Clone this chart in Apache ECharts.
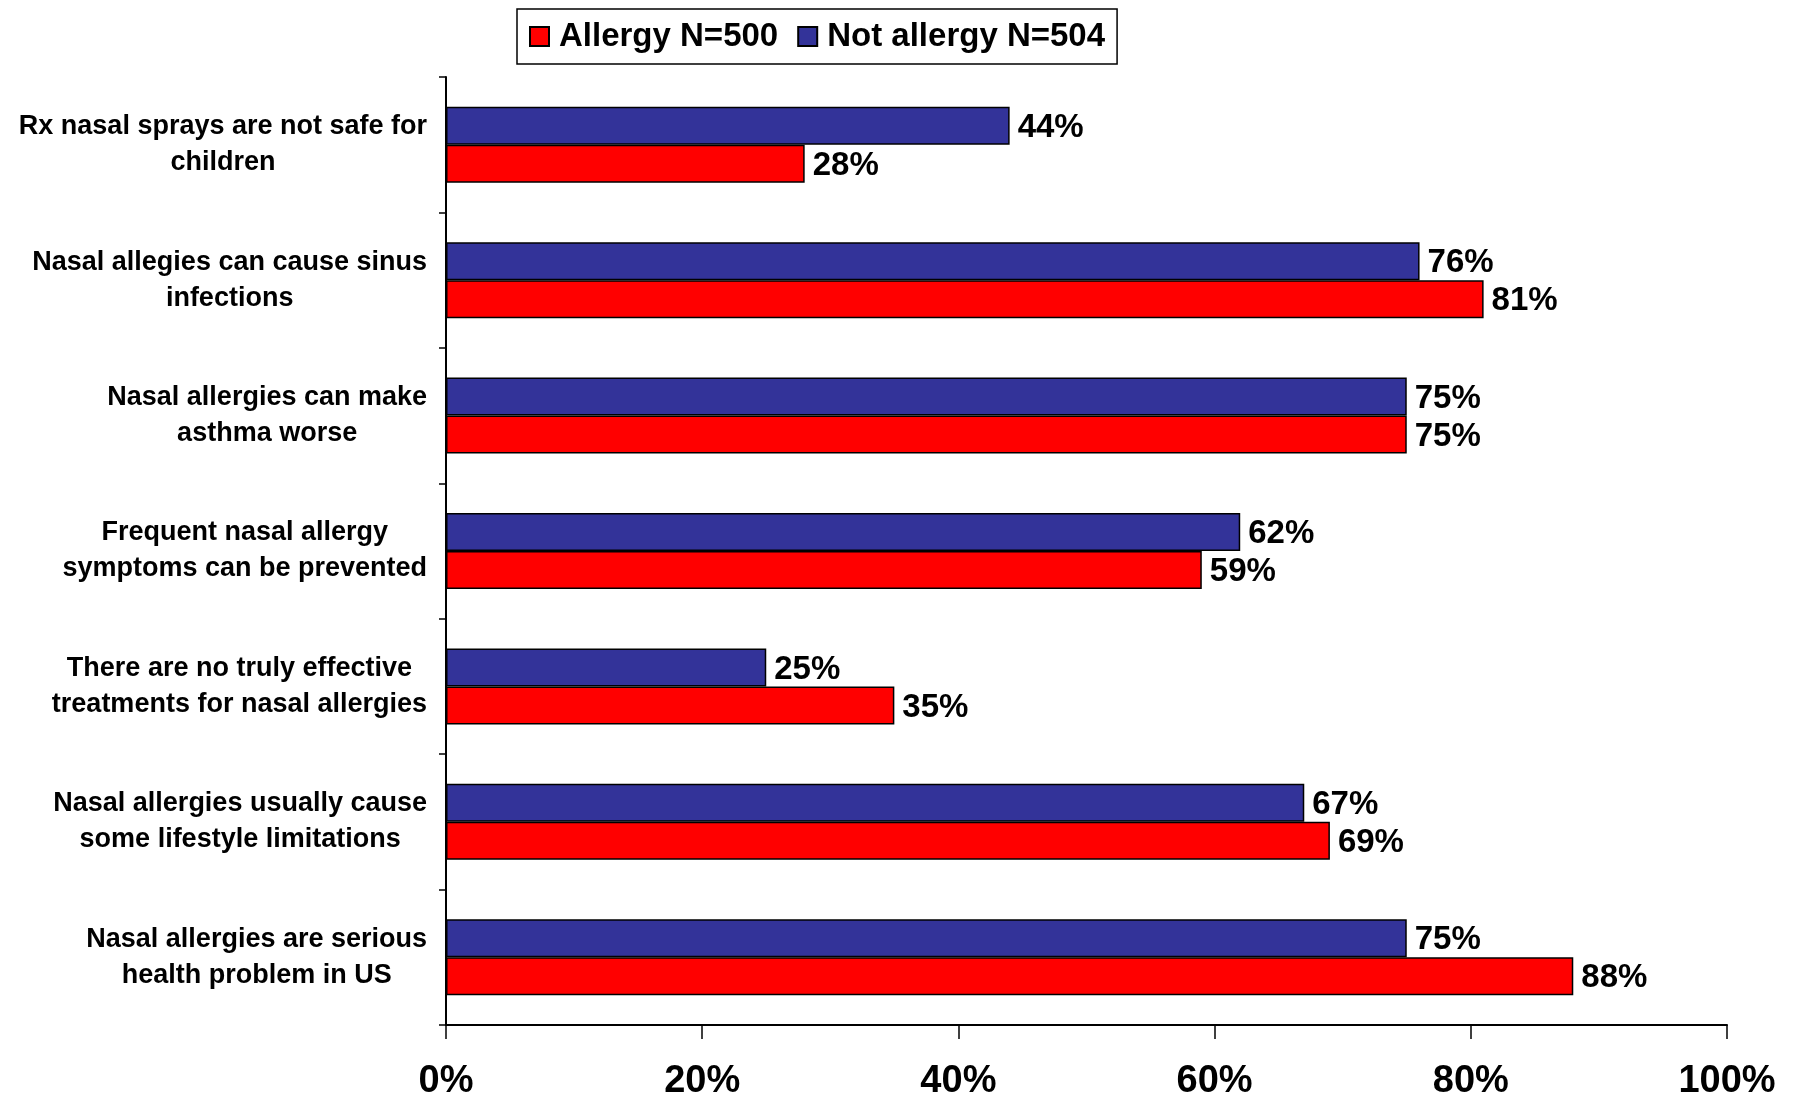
<!DOCTYPE html>
<html>
<head>
<meta charset="utf-8">
<script src="https://cdn.jsdelivr.net/npm/echarts@6/dist/echarts.min.js"></script>
<style>
  html, body { margin: 0; padding: 0; background: #fff; }
  #container { width: 1793px; height: 1101px; }
</style>
</head>
<body>
<div id="container"></div>
<script>
// categories, top to bottom
var categories = [
  'Rx nasal sprays are not safe for\nchildren',
  'Nasal allegies can cause sinus\ninfections',
  'Nasal allergies can make\nasthma worse',
  'Frequent nasal allergy\nsymptoms can be prevented',
  'There are no truly effective\ntreatments for nasal allergies',
  'Nasal allergies usually cause\nsome lifestyle limitations',
  'Nasal allergies are serious\nhealth problem in US'
];
var allergy = [28, 81, 75, 59, 35, 69, 88];
var notAllergy = [44, 76, 75, 62, 25, 67, 75];
var xTicks = [0, 20, 40, 60, 80, 100];

var FONT = 'Arial, "Liberation Sans", sans-serif';

var chart = echarts.init(document.getElementById('container'));

var valueLabel = {
  show: true,
  position: 'right',
  distance: 8,
  offset: [0, 2],
  formatter: '{c}%',
  color: '#000',
  fontFamily: FONT,
  fontWeight: 'bold',
  fontSize: 33
};

var option = {
  animation: false,
  backgroundColor: '#fff',
  legend: {
    left: 517,
    top: 9,
    padding: [11, 12, 11, 12],
    borderColor: '#000',
    borderWidth: 1.5,
    itemWidth: 19,
    itemHeight: 19,
    itemGap: 19,
    icon: 'rect',
    textStyle: { fontFamily: FONT, fontWeight: 'bold', fontSize: 33, color: '#000', padding: [0, 0, 0, 5] },
    data: ['Allergy N=500', 'Not allergy N=504']
  },
  grid: { left: 446, right: 66, top: 77, bottom: 75 },
  xAxis: {
    type: 'value',
    min: 0,
    max: 100,
    interval: 20,
    axisLine: { show: true, lineStyle: { color: '#000', width: 2 } },
    axisTick: { show: true, length: 14, lineStyle: { color: '#000', width: 1.5 } },
    splitLine: { show: false },
    axisLabel: {
      margin: 38,
      formatter: '{value}%',
      color: '#000',
      fontFamily: FONT,
      fontWeight: 'bold',
      fontSize: 38
    }
  },
  yAxis: {
    type: 'category',
    inverse: true,
    data: categories,
    axisLine: { show: true, lineStyle: { color: '#000', width: 2 } },
    axisTick: { show: true, length: 7, lineStyle: { color: '#000', width: 1.5 } },
    axisLabel: {
      margin: 19,
      align: 'right',
      lineHeight: 36,
      color: '#000',
      fontFamily: FONT,
      fontWeight: 'bold',
      fontSize: 27,
      formatter: function (v) {
        return v.split('\n').map(function (s) { return '{c|' + s + '}'; }).join('\n');
      },
      rich: {
        c: { align: 'center', fontFamily: FONT, fontWeight: 'bold', fontSize: 27, lineHeight: 36, color: '#000' }
      }
    }
  },
  series: [
    {
      name: 'Not allergy N=504',
      type: 'bar',
      data: notAllergy,
      barWidth: 38,
      barGap: '0%',
      itemStyle: { color: '#333399', borderColor: '#000', borderWidth: 1.5 },
      label: valueLabel
    },
    {
      name: 'Allergy N=500',
      type: 'bar',
      data: allergy,
      barWidth: 38,
      barGap: '0%',
      itemStyle: { color: '#FF0000', borderColor: '#000', borderWidth: 1.5 },
      label: valueLabel
    }
  ]
};

chart.setOption(option);
</script>
</body>
</html>
